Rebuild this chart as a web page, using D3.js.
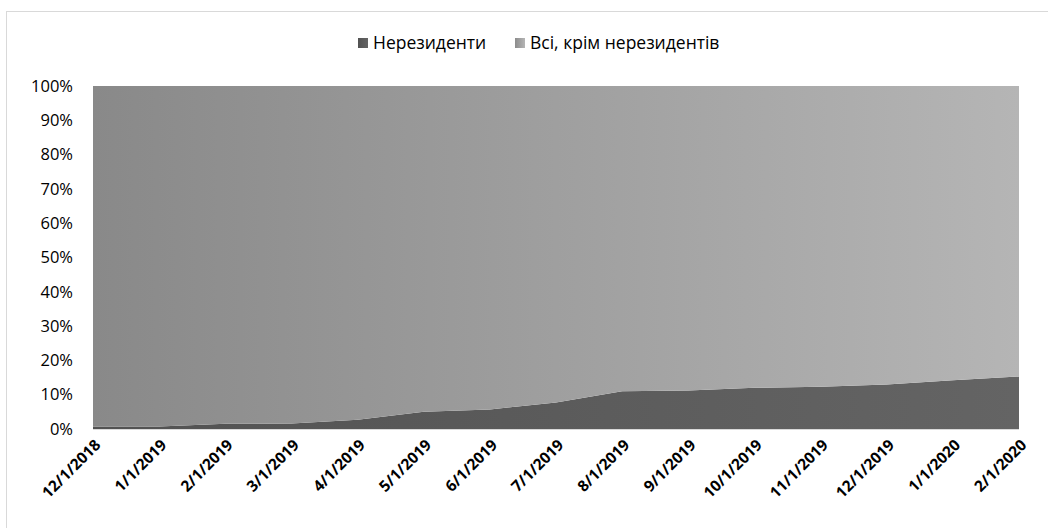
<!DOCTYPE html>
<html>
<head>
<meta charset="utf-8">
<script src="https://cdn.jsdelivr.net/npm/d3@7"></script>
<style>
  body { margin: 0; background: #fff; }
  text { font-family: "Open Sans", "Noto Sans", sans-serif; fill: #000; }
</style>
</head>
<body>
<div id="chart"></div>
<script>
const dates = ["12/1/2018", "1/1/2019", "2/1/2019", "3/1/2019", "4/1/2019", "5/1/2019",
    "6/1/2019", "7/1/2019", "8/1/2019", "9/1/2019", "10/1/2019", "11/1/2019",
    "12/1/2019", "1/1/2020", "2/1/2020"];
// share of non-residents, %
const nonResidents = [0.7, 0.7, 1.5, 1.6, 2.7, 5.0, 5.7, 7.7, 11.0, 11.2, 12.0, 12.3, 13.0, 14.2, 15.3];
const seriesNames = ["Нерезиденти", "Всі, крім нерезидентів"];
const yTicks = [0, 10, 20, 30, 40, 50, 60, 70, 80, 90, 100];

const W = 1048, H = 528;
const margin = { top: 86, right: 29, bottom: 99, left: 93 };
const width = W - margin.left - margin.right;
const height = H - margin.top - margin.bottom;

const svgRoot = d3.select("#chart").append("svg")
    .attr("width", W)
    .attr("height", H);

const defs = svgRoot.append("defs");
function gradient(id, x1, x2, c1, c2) {
    const g = defs.append("linearGradient")
        .attr("id", id)
        .attr("gradientUnits", "userSpaceOnUse")
        .attr("x1", x1).attr("x2", x2).attr("y1", 0).attr("y2", 0);
    g.append("stop").attr("offset", "0%").attr("stop-color", c1);
    g.append("stop").attr("offset", "100%").attr("stop-color", c2);
}
gradient("gDark", 0, width, "#525252", "#646464");
gradient("gLight", 0, width, "#898989", "#b5b5b5");

// outer chart border
svgRoot.append("rect")
    .attr("x", 6.5).attr("y", 11.5)
    .attr("width", 1060).attr("height", 540)
    .attr("fill", "none")
    .attr("stroke", "#d9d9d9");

const svg = svgRoot.append("g")
    .attr("transform", `translate(${margin.left},${margin.top})`);

const data = dates.map((d, i) => ({ date: d, nr: nonResidents[i], rest: 100 - nonResidents[i] }));

const x = d3.scalePoint().domain(dates).range([0, width]);
const y = d3.scaleLinear().domain([0, 100]).range([height, 0]);

const stack = d3.stack().keys(["nr", "rest"]);
const layers = stack(data);

const area = d3.area()
    .x(d => x(d.data.date))
    .y0(d => y(d[0]))
    .y1(d => y(d[1]));

svg.selectAll("path.layer")
    .data(layers)
    .join("path")
    .attr("class", "layer")
    .attr("d", area)
    .attr("fill", (d, i) => i === 0 ? "url(#gDark)" : "url(#gLight)");

// x axis line
svg.append("line")
    .attr("x1", 0).attr("x2", width)
    .attr("y1", height + 0.5).attr("y2", height + 0.5)
    .attr("stroke", "#d9d9d9");

// y axis labels
const yAxis = svg.append("g")
    .call(d3.axisLeft(y).tickValues(yTicks).tickFormat(d => d + "%").tickSize(0).tickPadding(20));
yAxis.select(".domain").remove();
yAxis.selectAll("text")
    .style("font-family", "'Open Sans', sans-serif")
    .style("font-size", "16.5px")
    .attr("fill", "#000");

// x axis labels
const xAxis = svg.append("g")
    .attr("transform", `translate(0,${height})`)
    .call(d3.axisBottom(x).tickSize(0).tickPadding(0));
xAxis.select(".domain").remove();
xAxis.selectAll("text")
    .attr("text-anchor", "end")
    .attr("y", 0)
    .attr("dy", 0)
    .attr("transform", "translate(8,17) rotate(-45)")
    .style("font-family", "'Open Sans', sans-serif")
    .style("font-size", "15.5px")
    .style("font-weight", "bold")
    .attr("fill", "#000");

// legend
const legend = svgRoot.append("g").attr("transform", "translate(358,43)");
const legendX = [0, 157];
seriesNames.forEach((name, i) => {
    const item = legend.append("g").attr("transform", `translate(${legendX[i]},0)`);
    const lg = defs.append("linearGradient").attr("id", "lg" + i);
    lg.append("stop").attr("offset", "0%").attr("stop-color", i === 0 ? "#525252" : "#8c8c8c");
    lg.append("stop").attr("offset", "100%").attr("stop-color", i === 0 ? "#646464" : "#b5b5b5");
    item.append("rect")
        .attr("x", 0).attr("y", -5)
        .attr("width", 10).attr("height", 10)
        .attr("fill", `url(#lg${i})`);
    item.append("text")
        .attr("x", 15).attr("y", 0)
        .attr("dy", "0.35em")
        .style("font-size", "17.5px")
        .text(name);
});
</script>
</body>
</html>
